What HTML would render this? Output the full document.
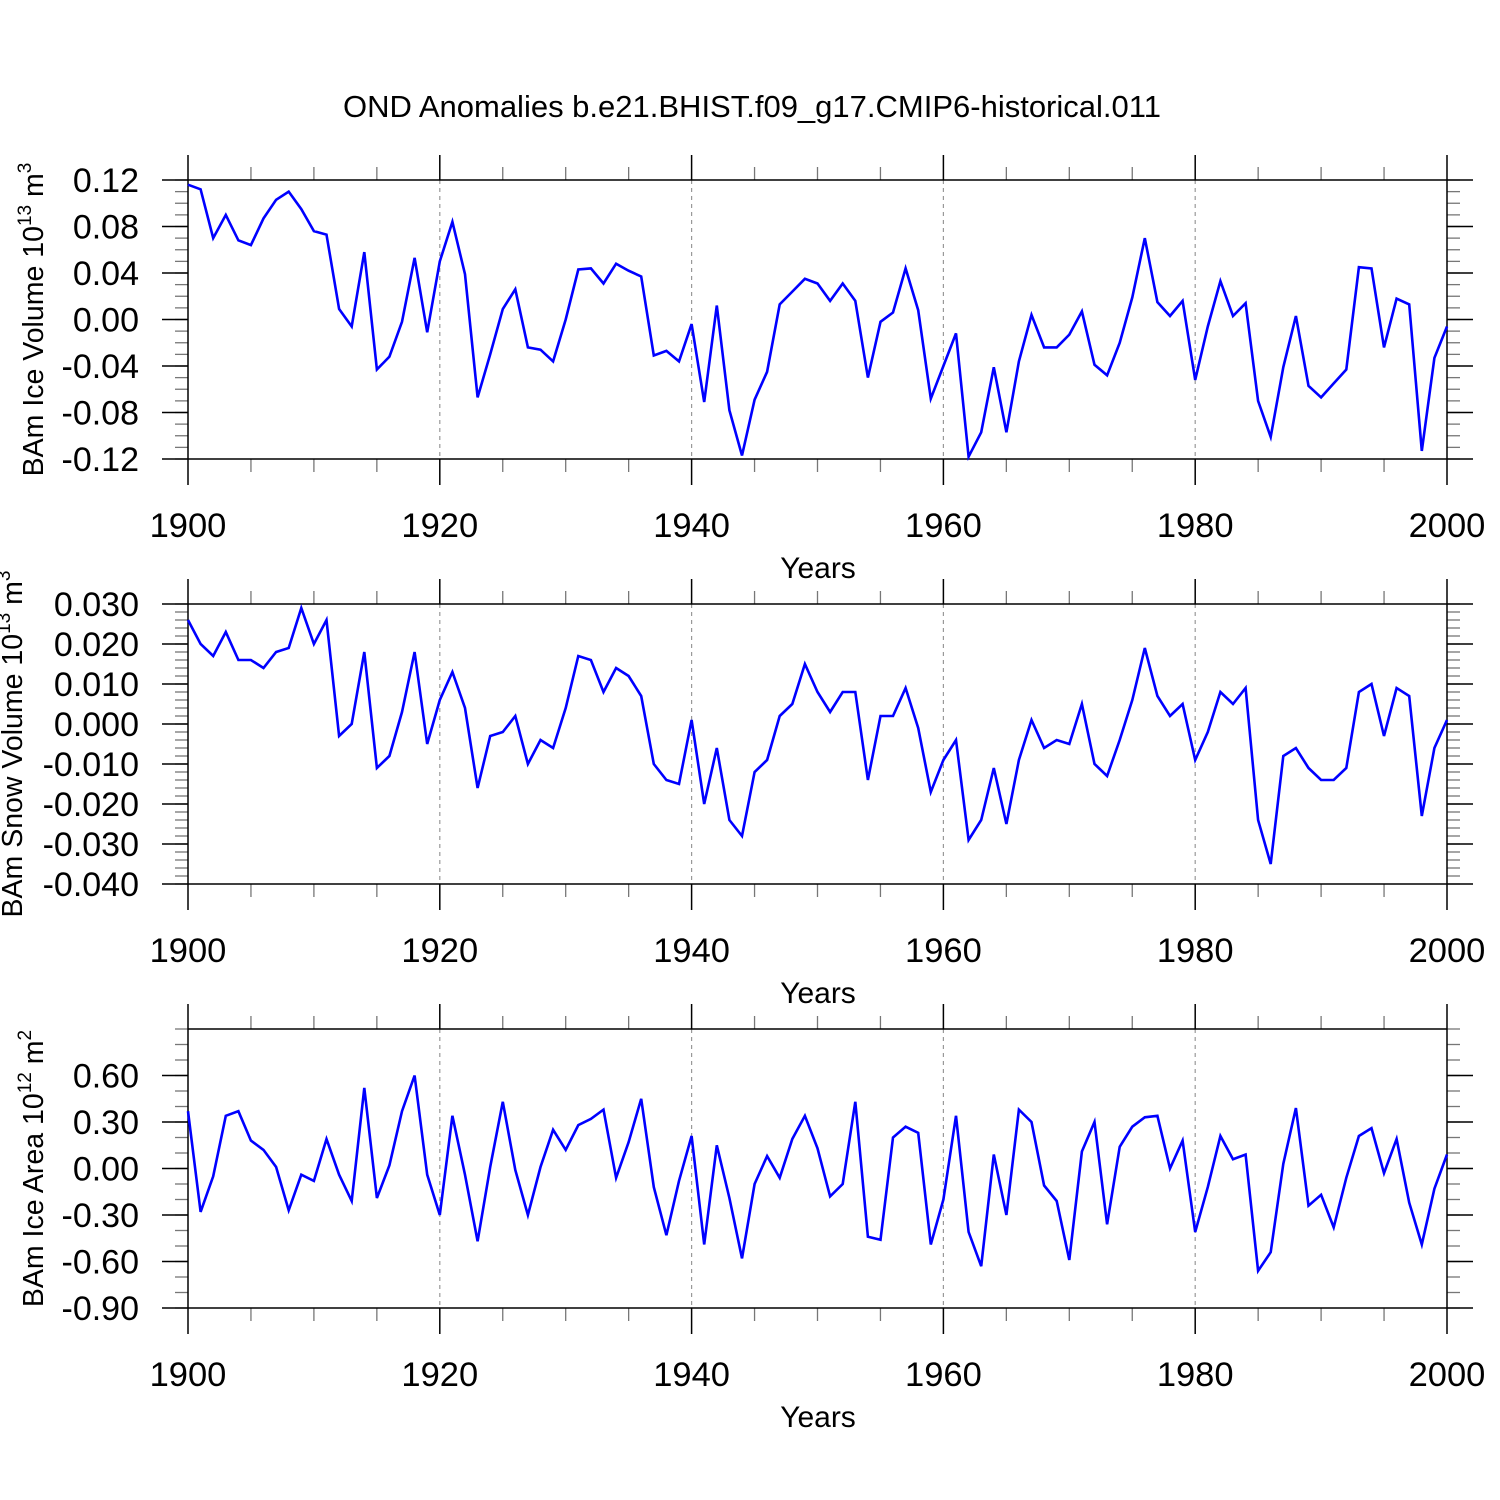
<!DOCTYPE html>
<html><head><meta charset="utf-8"><style>
html,body{margin:0;padding:0;background:#fff}
svg{display:block;font-family:"Liberation Sans",Arial,sans-serif}
</style></head><body>
<svg id="chart" width="1500" height="1500" viewBox="0 0 1500 1500" xmlns="http://www.w3.org/2000/svg">
<rect width="1500" height="1500" fill="#fff"/>
<text x="752" y="117" font-size="31" text-anchor="middle">OND Anomalies b.e21.BHIST.f09_g17.CMIP6-historical.011</text>
</svg>
<script>
const years = Array.from({length:101},(_,i)=>1900+i);
const iceVolume = [0.116,0.112,0.070,0.090,0.068,0.064,0.087,0.103,0.110,0.095,0.076,0.073,0.009,-0.006,0.058,-0.043,-0.032,-0.002,0.053,-0.011,0.050,0.084,0.039,-0.067,-0.030,0.009,0.026,-0.024,-0.026,-0.036,0.000,0.043,0.044,0.031,0.048,0.042,0.037,-0.031,-0.027,-0.036,-0.004,-0.071,0.012,-0.078,-0.117,-0.069,-0.045,0.013,0.024,0.035,0.031,0.016,0.031,0.016,-0.050,-0.002,0.006,0.044,0.008,-0.068,-0.040,-0.012,-0.118,-0.097,-0.041,-0.097,-0.036,0.004,-0.024,-0.024,-0.013,0.007,-0.039,-0.048,-0.020,0.019,0.070,0.015,0.003,0.016,-0.052,-0.006,0.033,0.003,0.014,-0.070,-0.101,-0.041,0.003,-0.057,-0.067,-0.055,-0.043,0.045,0.044,-0.024,0.018,0.013,-0.113,-0.033,-0.006];
const snowVolume = [0.026,0.020,0.017,0.023,0.016,0.016,0.014,0.018,0.019,0.029,0.020,0.026,-0.003,0.000,0.018,-0.011,-0.008,0.003,0.018,-0.005,0.006,0.013,0.004,-0.016,-0.003,-0.002,0.002,-0.010,-0.004,-0.006,0.004,0.017,0.016,0.008,0.014,0.012,0.007,-0.010,-0.014,-0.015,0.001,-0.020,-0.006,-0.024,-0.028,-0.012,-0.009,0.002,0.005,0.015,0.008,0.003,0.008,0.008,-0.014,0.002,0.002,0.009,-0.001,-0.017,-0.009,-0.004,-0.029,-0.024,-0.011,-0.025,-0.009,0.001,-0.006,-0.004,-0.005,0.005,-0.010,-0.013,-0.004,0.006,0.019,0.007,0.002,0.005,-0.009,-0.002,0.008,0.005,0.009,-0.024,-0.035,-0.008,-0.006,-0.011,-0.014,-0.014,-0.011,0.008,0.010,-0.003,0.009,0.007,-0.023,-0.006,0.001];
const iceArea = [0.37,-0.28,-0.05,0.34,0.37,0.18,0.12,0.01,-0.27,-0.04,-0.08,0.19,-0.04,-0.21,0.52,-0.19,0.02,0.37,0.60,-0.04,-0.30,0.34,-0.04,-0.47,0.01,0.43,-0.01,-0.30,0.01,0.25,0.12,0.28,0.32,0.38,-0.06,0.17,0.45,-0.12,-0.43,-0.08,0.21,-0.49,0.15,-0.19,-0.58,-0.10,0.08,-0.06,0.19,0.34,0.13,-0.18,-0.10,0.43,-0.44,-0.46,0.20,0.27,0.23,-0.49,-0.20,0.34,-0.41,-0.63,0.09,-0.30,0.38,0.30,-0.11,-0.21,-0.59,0.11,0.30,-0.36,0.14,0.27,0.33,0.34,0.00,0.18,-0.41,-0.12,0.21,0.06,0.09,-0.66,-0.54,0.03,0.39,-0.24,-0.17,-0.38,-0.06,0.21,0.26,-0.03,0.19,-0.22,-0.49,-0.13,0.09];
const xTickLabels = ["1900","1920","1940","1960","1980","2000"];
const iceVolTicks = ["0.12","0.08","0.04","0.00","-0.04","-0.08","-0.12"];
const snowVolTicks = ["0.030","0.020","0.010","0.000","-0.010","-0.020","-0.030","-0.040"];
const iceAreaTicks = ["0.60","0.30","0.00","-0.30","-0.60","-0.90"];

const NS="http://www.w3.org/2000/svg";
const svg=document.getElementById('chart');
const X0=188,X1=1447;
function xs(y){return X0+(y-1900)/100*(X1-X0);}
function mk(tag,attrs,parent){const e=document.createElementNS(NS,tag);for(const k in attrs)e.setAttribute(k,attrs[k]);(parent||svg).appendChild(e);return e;}

const panels=[
 {name:'ice-volume',top:180,bot:459,ymin:-0.12,ymax:0.12,minor:0.01,labels:iceVolTicks,data:iceVolume,tx:43,t1:'BAm Ice Volume 10',sup:'13',t2:' m',sup2:'3'},
 {name:'snow-volume',top:604,bot:884,ymin:-0.04,ymax:0.03,minor:0.002,labels:snowVolTicks,data:snowVolume,tx:22,t1:'BAm Snow Volume 10',sup:'13',t2:' m',sup2:'3'},
 {name:'ice-area',top:1029,bot:1308,ymin:-0.9,ymax:0.9,minor:0.1,labels:iceAreaTicks,data:iceArea,tx:43,t1:'BAm Ice Area 10',sup:'12',t2:' m',sup2:'2'}
];
panels.forEach(p=>{
 const g=mk('g',{});
 
 
 const ys=v=>p.bot-(v-p.ymin)/(p.ymax-p.ymin)*(p.bot-p.top);
 for(let yr=1920;yr<2000;yr+=20){
  const l=mk('line',{x1:xs(yr),x2:xs(yr),y1:p.top,y2:p.bot,stroke:'#999','stroke-width':1.2,'stroke-dasharray':'4,4'},g);
  
  
 }
 for(let yr=1905;yr<2000;yr+=5){ if(yr%20===0)continue;
  mk('line',{x1:xs(yr),x2:xs(yr),y1:p.top-13,y2:p.top,stroke:'#777','stroke-width':1.3},g);
  mk('line',{x1:xs(yr),x2:xs(yr),y1:p.bot,y2:p.bot+13,stroke:'#777','stroke-width':1.3},g);
 }
 xTickLabels.forEach(s=>{const yr=+s;
  mk('line',{x1:xs(yr),x2:xs(yr),y1:p.top-25,y2:p.top,stroke:'#000','stroke-width':1.5},g);
  mk('line',{x1:xs(yr),x2:xs(yr),y1:p.bot,y2:p.bot+26,stroke:'#000','stroke-width':1.5},g);
  const t=mk('text',{x:xs(yr),y:p.bot+78,'font-size':34.5,'text-anchor':'middle'},g);t.textContent=s;
  
  
 });
 const n=Math.round((p.ymax-p.ymin)/p.minor);
 for(let i=0;i<=n;i++){const v=p.ymin+i*p.minor;const y=ys(v);
  mk('line',{x1:X0-13,x2:X0,y1:y,y2:y,stroke:'#777','stroke-width':1.3},g);
  mk('line',{x1:X1,x2:X1+13,y1:y,y2:y,stroke:'#777','stroke-width':1.3},g);
 }
 p.labels.forEach(s=>{const y=ys(+s);
  mk('line',{x1:X0-26,x2:X0,y1:y,y2:y,stroke:'#000','stroke-width':1.5},g);
  mk('line',{x1:X1,x2:X1+26,y1:y,y2:y,stroke:'#000','stroke-width':1.5},g);
  const t=mk('text',{x:139,y:y+12,'font-size':34,'text-anchor':'end'},g);t.textContent=s;
  
  
 });
 mk('rect',{x:X0,y:p.top,width:X1-X0,height:p.bot-p.top,fill:'none',stroke:'#000','stroke-width':1.5},g);
 const pts=p.data.map((v,i)=>xs(years[i]).toFixed(1)+','+ys(v).toFixed(1)).join(' ');
 const pl=mk('polyline',{points:pts,fill:'none',stroke:'#0000ff','stroke-width':2.6,'stroke-linejoin':'miter'},g);
 
 
 const xt=mk('text',{x:818,y:p.bot+119,'font-size':30,'text-anchor':'middle'},g);xt.textContent='Years';
 
 
 const cy=(p.top+p.bot)/2;
 const yt=mk('text',{x:0,y:0,'font-size':28.5,'text-anchor':'middle',transform:`translate(${p.tx},${cy}) rotate(-90)`},g);
 
 
 const a=mk('tspan',{},yt);a.textContent=p.t1;
 const b=mk('tspan',{dy:-12,'font-size':19},yt);b.textContent=p.sup;
 const c=mk('tspan',{dy:12},yt);c.textContent=p.t2;
 const d=mk('tspan',{dy:-12,'font-size':19},yt);d.textContent=p.sup2;
});
</script>
</body></html>
